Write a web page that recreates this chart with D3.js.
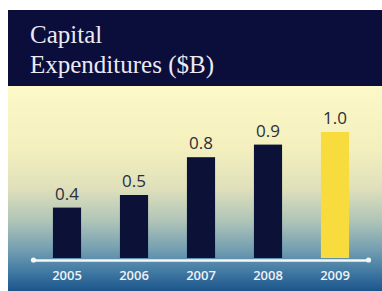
<!DOCTYPE html>
<html>
<head>
<meta charset="utf-8">
<script src="https://cdn.jsdelivr.net/npm/d3@7"></script>
<style>
  body { margin: 0; background: #fff; }
  svg { display: block; }
</style>
</head>
<body>
<svg width="382" height="291"></svg>
<script>
var years = ["2005", "2006", "2007", "2008", "2009"];
var capex = [0.4, 0.5, 0.8, 0.9, 1.0];
var valueLabels = ["0.4", "0.5", "0.8", "0.9", "1.0"];
var titleLines = ["Capital", "Expenditures ($B)"];

var svg = d3.select("svg"),
    width = +svg.attr("width"),
    height = +svg.attr("height");

var defs = svg.append("defs");
var grad = defs.append("linearGradient")
    .attr("id", "bg")
    .attr("x1", 0).attr("y1", 0).attr("x2", 0).attr("y2", 1);
[[0, "#fcf8c7"], [0.3, "#f4f0be"], [0.5, "#dfe0bb"], [0.66, "#afc4b8"],
 [0.8, "#739eb1"], [0.91, "#3f78a2"], [1, "#1c558b"]].forEach(function(s) {
  grad.append("stop").attr("offset", s[0]).attr("stop-color", s[1]);
});

// panel background
svg.append("rect")
    .attr("x", 8).attr("y", 86)
    .attr("width", width - 8).attr("height", height - 86)
    .attr("fill", "url(#bg)");

// header
svg.append("rect")
    .attr("x", 8).attr("y", 10)
    .attr("width", width - 8).attr("height", 76)
    .attr("fill", "#0b0d3b");

svg.append("g").selectAll("text")
    .data(titleLines)
    .enter().append("text")
    .attr("x", 30)
    .attr("y", function(d, i) { return 43 + i * 30; })
    .attr("fill", "#eceaf2")
    .style("font-family", "'Liberation Serif', 'DejaVu Serif', serif")
    .style("font-size", "25px")
    .text(function(d) { return d; });

var x = d3.scaleBand()
    .domain(years)
    .range([33.5, 368.5])
    .paddingInner(0.58)
    .paddingOuter(0.29);

var y = d3.scaleLinear()
    .domain([0, 1])
    .range([258, 132]);

svg.append("g").selectAll("rect")
    .data(capex)
    .enter().append("rect")
    .attr("x", function(d, i) { return x(years[i]); })
    .attr("y", function(d) { return y(d); })
    .attr("width", x.bandwidth())
    .attr("height", function(d) { return y(0) - y(d); })
    .attr("fill", function(d, i) { return i === years.length - 1 ? "#f8dc3e" : "#0c1137"; });

svg.append("g").selectAll("text")
    .data(capex)
    .enter().append("text")
    .attr("x", function(d, i) { return x(years[i]) + x.bandwidth() / 2; })
    .attr("y", function(d) { return y(d) - 8; })
    .attr("text-anchor", "middle")
    .attr("fill", "#2b2d3c")
    .style("font-family", "'Open Sans', sans-serif")
    .style("font-size", "17px")
    .text(function(d, i) { return valueLabels[i]; });

// axis
var axis = svg.append("g")
    .attr("transform", "translate(0,260)")
    .call(d3.axisBottom(x).tickSize(0).tickPadding(11));
axis.select(".domain")
    .attr("stroke", "#f4f6f8")
    .attr("stroke-width", 2.5);
axis.selectAll("text")
    .attr("fill", "#eef2f7")
    .style("font-family", "'Open Sans', sans-serif")
    .style("font-size", "13px")
    .style("font-weight", "600");

axis.selectAll("circle.cap")
    .data(x.range())
    .enter().append("circle")
    .attr("class", "cap")
    .attr("cx", function(d) { return d; })
    .attr("cy", 0)
    .attr("r", 2.6)
    .attr("fill", "#f4f6f8");
</script>
</body>
</html>
